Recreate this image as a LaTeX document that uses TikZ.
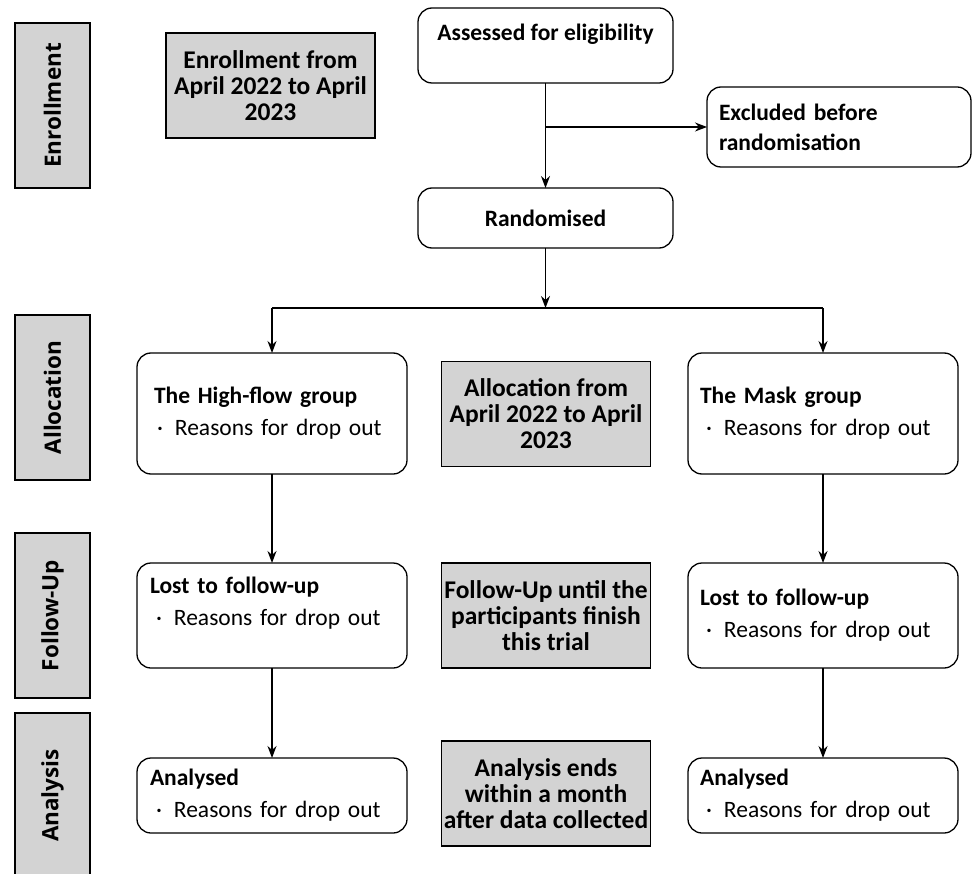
\documentclass[tikz,border=0pt]{standalone}
\usepackage{fontspec}
\setmainfont{Carlito}
\newfontfamily\sidefont{Open Sans}
\usetikzlibrary{arrows.meta}
\definecolor{boxgray}{RGB}{211,211,211}
\tikzset{
  every node/.style={inner sep=0pt, outer sep=0pt},
  sidebox/.style={draw, line width=1.3pt, fill=boxgray, minimum width=75pt, minimum height=165pt},
  sidetext/.style={rotate=90, font=\sidefont\bfseries\fontsize{22.5}{26}\selectfont},
  graybox/.style={draw, line width=1.3pt, fill=boxgray, minimum width=209pt, minimum height=105pt, align=center, font=\bfseries\fontsize{25.5}{26}\selectfont},
  wbox/.style={draw, line width=1.3pt, rounded corners=14pt, fill=white, font=\fontsize{23.5}{32}\selectfont},
  conn/.style={line width=1.3pt},
  arr/.style={line width=1.3pt, -{Stealth[length=12pt, width=9pt]}}
}
\newcommand{\dropitem}[1]{\hspace*{#1}·\hspace{12pt}Reasons for drop out}
\begin{document}
\begin{tikzpicture}[x=1pt, y=-1pt]
\useasboundingbox (0,0) rectangle (973,874);
% side labels
\node[sidebox] (sEnr) at (52.5,105.5) {};
\node[sidetext] at (sEnr) {Enrollment};
\node[sidebox] (sAll) at (52.5,397.5) {};
\node[sidetext] at (sAll) {Allocation};
\node[sidebox] (sFol) at (52.5,615.5) {};
\node[sidetext] at (sFol) {Follow-Up};
\node[sidebox] (sAna) at (52.5,795.5) {};
\node[sidetext] at (sAna) {Analysis};
% gray info boxes
\node[graybox] (gEnr) at (270.5,85.5) {Enrollment from\\April 2022 to April\\2023};
\node[graybox] (gAll) at (546,414) {Allocation from\\April 2022 to April\\2023};
\node[graybox] (gFol) at (546,615.5) {Follow-Up until the\\participants finish\\this trial};
\node[graybox] (gAna) at (546,793.5) {Analysis ends\\within a month\\after data collected};
% flow boxes
\node[wbox, minimum width=255pt, minimum height=75pt, align=center] (assess) at (545.5,45.5) {\textbf{Assessed for eligibility}\\[-16pt] \strut};
\node[wbox, minimum width=264pt, minimum height=80pt, text width=240pt, align=left, font=\fontsize{23.5}{30}\selectfont] (excl) at (839,127) {\textbf{Excluded before}\\\textbf{randomisation}};
\node[wbox, minimum width=255pt, minimum height=60pt, align=center] (rand) at (545.5,218) {\textbf{Randomised}};
\node[wbox, minimum width=270pt, minimum height=121pt, text width=236pt, align=left] (hf) at (272,413.5) {\textbf{The High-flow group}\\\dropitem{3pt}};
\node[wbox, minimum width=270pt, minimum height=121pt, text width=246pt, align=left] (mask) at (823,413.5) {\textbf{The Mask group}\\\dropitem{6pt}};
\node[wbox, minimum width=270pt, minimum height=105pt, text width=244pt, align=left] (lostL) at (272,615.5) {\textbf{Lost to follow-up}\\\dropitem{6pt}\\[-14pt] \strut};
\node[wbox, minimum width=270pt, minimum height=105pt, text width=246pt, align=left] (lostR) at (823,615.5) {\textbf{Lost to follow-up}\\\dropitem{6pt}};
\node[wbox, minimum width=270pt, minimum height=75pt, text width=244pt, align=left] (anaL) at (272,795.5) {\textbf{Analysed}\\\dropitem{6pt}};
\node[wbox, minimum width=270pt, minimum height=75pt, text width=246pt, align=left] (anaR) at (823,795.5) {\textbf{Analysed}\\\dropitem{6pt}};
% connectors
\coordinate (branch) at (assess.south |- excl.west);
\coordinate (split) at (rand.south |- 0,308);
\coordinate (splitL) at (hf.north |- split);
\coordinate (splitR) at (mask.north |- split);
\draw[arr] (assess.south) -- (rand.north);
\draw[arr] (branch) -- (excl.west);
\draw[arr] (rand.south) -- (split);
\draw[conn] (splitL) -- (splitR);
\draw[arr] (splitL) -- (hf.north);
\draw[arr] (splitR) -- (mask.north);
\draw[arr] (hf.south) -- (lostL.north);
\draw[arr] (lostL.south) -- (anaL.north);
\draw[arr] (mask.south) -- (lostR.north);
\draw[arr] (lostR.south) -- (anaR.north);
\end{tikzpicture}
\end{document}
